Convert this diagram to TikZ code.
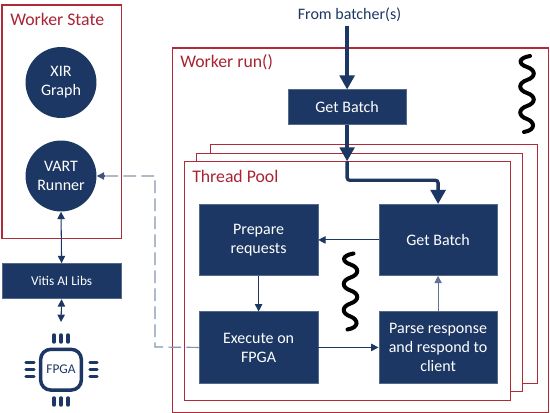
\documentclass[tikz,border=0pt]{standalone}
\usepackage{fontspec}
\setmainfont{Carlito}
\usetikzlibrary{arrows.meta,calc}
\definecolor{navy}{HTML}{1C3763}
\definecolor{redline}{HTML}{B02A38}
\definecolor{redtext}{HTML}{A82433}
\definecolor{dashgrey}{HTML}{8494AD}
\tikzset{
  x=0.75pt,y=-0.75pt,
  base/.style={font=\fontsize{12}{14.25}\selectfont,align=center,inner sep=0pt},
  bluebox/.style={base,rectangle,fill=navy,draw=navy!75!white,line width=0.4pt,text=white,minimum width=89pt,anchor=north west},
  bluecirc/.style={base,circle,fill=navy,text=white,minimum size=53.2pt},
  frame/.style={rectangle,draw=redline,line width=0.8pt,fill=white,anchor=north west},
  redlabel/.style={base,text=redtext,font=\fontsize{13.3}{15}\selectfont,anchor=west},
  thick arrow/.style={draw=navy,line width=2.5pt,-{Triangle[length=10.5pt,width=11pt]}},
  thin arrow/.style={draw=navy,line width=0.8pt,-{Triangle[length=5.5pt,width=5.5pt]}},
  both arrow/.style={draw=navy,line width=0.8pt,{Triangle[length=5.5pt,width=5.5pt]}-{Triangle[length=5.5pt,width=5.5pt]}},
  dash line/.style={draw=dashgrey,line width=0.9pt,dash pattern=on 9.5pt off 4pt},
  wave/.style={draw=black,line width=3pt,line cap=round},
  pin/.style={draw=navy,line width=2.6pt,line cap=round},
}
\newcommand{\wavepath}[2]{%
  \draw[wave] (#1+3,#2) .. controls (#1-9,#2+2) and (#1-9,#2+8) .. (#1,#2+11)
    .. controls (#1+9,#2+14) and (#1+9,#2+21) .. (#1,#2+24)
    .. controls (#1-9,#2+27) and (#1-9,#2+34) .. (#1,#2+37)
    .. controls (#1+9,#2+40) and (#1+9,#2+47) .. (#1,#2+50)
    .. controls (#1-9,#2+53) and (#1-9,#2+60) .. (#1,#2+63)
    .. controls (#1+8,#2+66) and (#1+9,#2+74) .. (#1-3,#2+76);
}
\begin{document}
\begin{tikzpicture}
\useasboundingbox (0,0) rectangle (550,413);
% frames
\node[frame,minimum width=89.6pt,minimum height=175.3pt] (state) at (1.5,4.5) {};
\node[frame,minimum width=282.4pt,minimum height=273pt] (run) at (171.5,47.5) {};
\node[frame,minimum width=244.9pt,minimum height=179.5pt] (back) at (210.3,143.7) {};
\node[frame,minimum width=244.5pt,minimum height=178.7pt] (mid) at (195.7,152.7) {};
\node[frame,minimum width=244.7pt,minimum height=179pt] (front) at (183.7,161.3) {};
% labels
\node[redlabel] (statelabel) at (10,19.5) {Worker State};
\node[redlabel] (runlabel) at (180,62) {Worker run()};
\node[redlabel] (poollabel) at (192,176) {Thread Pool};
\node[base,text=navy] (source) at (349.5,15) {From batcher(s)};
% nodes
\node[bluecirc] (xir) at (61,82.5) {XIR\\Graph};
\node[bluecirc] (vart) at (61,176) {VART\\Runner};
\node[bluebox,minimum height=25.9pt] (vitis) at (2,263.2) {\fontsize{10}{12}\selectfont Vitis AI Libs};
\node[bluebox,minimum height=26.2pt] (top) at (287.5,89.5) {Get Batch};
\node[bluebox,minimum height=53.5pt] (prep) at (199,204) {Prepare\\requests};
\node[bluebox,minimum height=53.5pt] (get) at (378.5,204) {Get Batch};
\node[bluebox,minimum height=53.5pt] (exec) at (199,311.5) {Execute on\\FPGA};
\node[bluebox,minimum height=53.5pt] (parse) at (378.5,311.5) {Parse response\\and respond to\\client};
% fpga
\node[rectangle,rounded corners=7.5pt,draw=navy,line width=2.6pt,fill=white,minimum size=30.5pt,inner sep=0pt,text=navy,font=\fontsize{10}{12}\selectfont] (fpga) at (61,369.7) {FPGA};
\foreach \d in {-7,0,7}{
  \draw[pin] (61+\d,335) -- (61+\d,342);
  \draw[pin] (61+\d,398) -- (61+\d,405);
  \draw[pin] (26,369.7+\d) -- (34,369.7+\d);
  \draw[pin] (90,369.7+\d) -- (97,369.7+\d);
}
% connectors
\coordinate (entry) at (top.south |- front.north);
\coordinate (feed) at (top.north |- 0,26);
\draw[thick arrow] (feed) -- (top.north);
\draw[thick arrow] (top.south) -- (entry);
\draw[thick arrow,rounded corners=2pt] (entry) -- ($(entry)+(0,19)$) -| (get.north);
\draw[thin arrow] (get.west) -- (prep.east);
\draw[thin arrow] (prep.south) -- (exec.north);
\draw[thin arrow] (exec.east) -- (parse.west);
\draw[thin arrow,draw=navy!70!white] (parse.north) -- (get.south);
\draw[both arrow] (vart.south) -- (vitis.north);
\draw[both arrow] (vitis.south) ++(0,1) -- (61,322);
\draw[dash line] (exec.west) -- (155,347) -- (155,176) -- (104,176);
\draw[navy!85!white,-{Triangle[length=5.5pt,width=5.5pt]},line width=0.8pt] (104,176) -- (vart.east);
% waves
\wavepath{527}{56}
\wavepath{350.5}{253.5}
\end{tikzpicture}
\end{document}
